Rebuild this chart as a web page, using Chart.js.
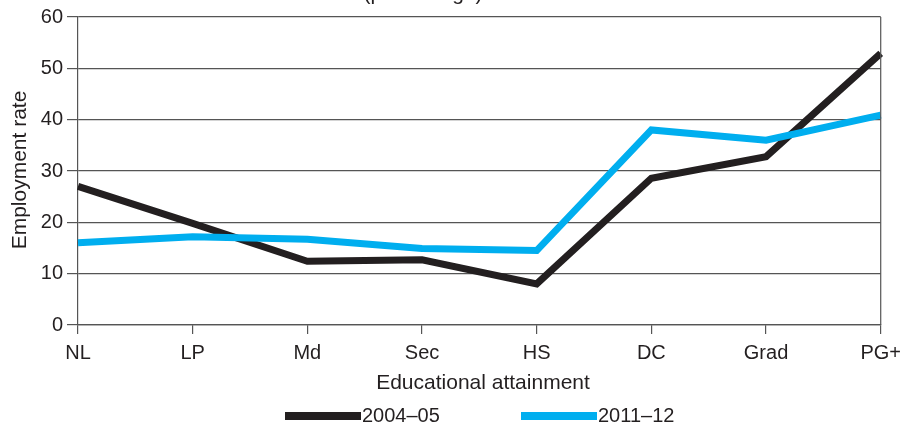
<!DOCTYPE html>
<html>
<head>
<meta charset="utf-8">
<script src="https://cdn.jsdelivr.net/npm/chart.js@4.4.0/dist/chart.umd.min.js"></script>
<style>
    body { margin: 0; background: #fff; }
    canvas { display: block; }
</style>
</head>
<body>
<canvas id="chart" width="908" height="424"></canvas>
<script>
const categories = ['NL', 'LP', 'Md', 'Sec', 'HS', 'DC', 'Grad', 'PG+'];
const rate2004 = [27.0, 19.8, 12.4, 12.7, 8.0, 28.6, 32.8, 52.9];
const rate2011 = [16.0, 17.2, 16.7, 14.9, 14.5, 38.0, 36.0, 40.9];
const seriesNames = ['2004–05', '2011–12'];
const yTicks = [0, 10, 20, 30, 40, 50, 60];

const ink = '#231f20';
const blue = '#00aeef';
const fontFamily = '"Liberation Sans", Arial, sans-serif';

// titles + legend drawn as plain text on the canvas
const extras = {
    id: 'extras',
    afterDraw(chart) {
        const ctx = chart.ctx;
        const area = chart.chartArea;
        ctx.save();

        // right frame line
        ctx.strokeStyle = '#555';
        ctx.lineWidth = 1.2;
        ctx.beginPath();
        ctx.moveTo(area.right, area.top);
        ctx.lineTo(area.right, area.bottom);
        ctx.stroke();

        ctx.fillStyle = ink;
        ctx.font = '21px ' + fontFamily;
        ctx.textAlign = 'center';
        ctx.textBaseline = 'alphabetic';
        ctx.fillText('(percentage)', 423, 0);

        ctx.textBaseline = 'middle';
        ctx.fillText('Educational attainment', 483, 383);

        ctx.save();
        ctx.translate(20, 170);
        ctx.rotate(-Math.PI / 2);
        ctx.fillText('Employment rate', 0, 0);
        ctx.restore();

        // legend
        const items = [
            { name: seriesNames[0], color: ink, x: 285 },
            { name: seriesNames[1], color: blue, x: 521 }
        ];
        ctx.font = '20px ' + fontFamily;
        ctx.textAlign = 'left';
        items.forEach(it => {
            ctx.fillStyle = it.color;
            ctx.fillRect(it.x, 412, 76, 8);
            ctx.fillStyle = ink;
            ctx.fillText(it.name, it.x + 77, 416);
        });
        ctx.restore();
    }
};

new Chart(document.getElementById('chart'), {
    type: 'line',
    data: {
        labels: categories,
        datasets: [
            {
                label: seriesNames[0],
                data: rate2004,
                borderColor: ink,
                borderWidth: 7,
                pointRadius: 0,
                tension: 0,
                borderJoinStyle: 'miter',
                order: 1
            },
            {
                label: seriesNames[1],
                data: rate2011,
                borderColor: blue,
                borderWidth: 7,
                pointRadius: 0,
                tension: 0,
                borderJoinStyle: 'miter',
                order: 0
            }
        ]
    },
    options: {
        responsive: false,
        animation: false,
        devicePixelRatio: 1,
        layout: { padding: { top: 17, right: 24, bottom: 0, left: 0 } },
        plugins: {
            legend: { display: false },
            tooltip: { enabled: false }
        },
        scales: {
            x: {
                offset: false,
                grid: { drawOnChartArea: false, tickLength: 9, color: '#555', lineWidth: 1.2 },
                border: { color: '#555', width: 1.2 },
                ticks: {
                    color: ink,
                    padding: 7,
                    maxRotation: 0,
                    autoSkip: false,
                    font: { family: fontFamily, size: 20 }
                },
                afterFit: (scale) => { scale.height = 99; }
            },
            y: {
                min: 0,
                max: 60,
                afterBuildTicks: (scale) => { scale.ticks = yTicks.map(v => ({ value: v })); },
                grid: { tickLength: 11, color: '#555', lineWidth: 1.2 },
                border: { color: '#555', width: 1.2 },
                ticks: {
                    color: ink,
                    padding: 4,
                    font: { family: fontFamily, size: 20 }
                },
                afterFit: (scale) => { scale.width = 78; }
            }
        }
    },
    plugins: [extras]
});
</script>
</body>
</html>
